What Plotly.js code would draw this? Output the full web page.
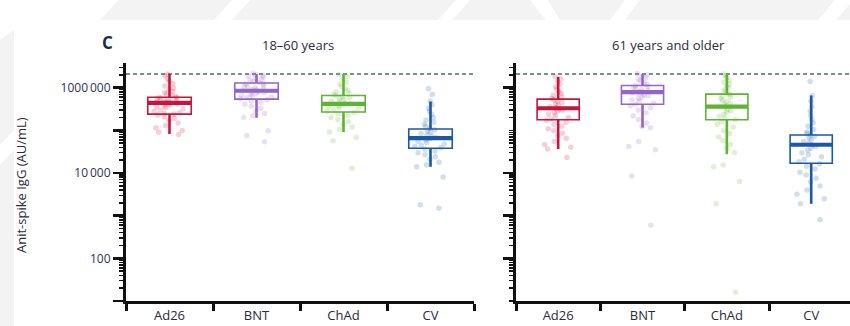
<!DOCTYPE html>
<html><head><meta charset="utf-8">
<script src="https://cdn.plot.ly/plotly-3.0.1.min.js"></script>
<style>html,body{margin:0;padding:0;background:#fff}#chart{width:850px;height:326px}</style>
</head><body><div id="chart"></div>
<script>
// ---------- DATA ----------
const categories = ['Ad26', 'BNT', 'ChAd', 'CV'];
const panelTitles = ['18–60 years', '61 years and older'];
const yTitle = 'Anit-spike IgG (AU/mL)';
const panelLetter = 'C';
const yTickVals = [10, 100, 1000, 10000, 100000, 1000000];
const yTickText = ['', '100', '', '10\u2009000', '', '1000\u2009000'];
const upperLimit = 2100000;

// 18-60 years: box statistics per category
const young_q1     = [240000, 540000, 270000, 38000];
const young_median = [440000, 850000, 420000, 66000];
const young_q3     = [600000, 1290000, 660000, 108000];
const young_low    = [82000, 197000, 91000, 14000];
const young_high   = [2100000, 2100000, 2100000, 476000];

// 61 years and older: box statistics per category
const old_q1     = [177000, 410000, 177000, 17000];
const old_median = [330000, 790000, 360000, 46000];
const old_q3     = [540000, 1130000, 710000, 78000];
const old_low    = [36500, 116000, 27600, 1900];
const old_high   = [1800000, 2100000, 2100000, 660000];

// individual values
const young_Ad26 = [2100000, 1900000, 1600000, 1400000, 1250000, 1100000, 980000, 900000, 820000, 760000, 700000, 660000, 620000, 600000, 580000, 560000, 540000, 520000, 500000, 480000, 460000, 450000, 440000, 430000, 420000, 400000, 380000, 360000, 340000, 320000, 300000, 280000, 260000, 250000, 240000, 230000, 210000, 190000, 170000, 150000, 130000, 115000, 100000, 90000, 80000];
const young_BNT = [2150000, 2050000, 1950000, 1850000, 1750000, 1650000, 1550000, 1480000, 1400000, 1330000, 1280000, 1220000, 1160000, 1100000, 1050000, 1000000, 960000, 920000, 880000, 850000, 820000, 790000, 760000, 730000, 700000, 670000, 640000, 610000, 580000, 550000, 520000, 490000, 450000, 410000, 370000, 330000, 290000, 250000, 220000, 200000, 98000, 76000, 54000];
const young_ChAd = [2050000, 1800000, 1550000, 1350000, 1200000, 1050000, 950000, 870000, 800000, 740000, 690000, 650000, 610000, 580000, 550000, 520000, 490000, 460000, 440000, 420000, 400000, 380000, 360000, 340000, 320000, 300000, 280000, 265000, 245000, 225000, 200000, 180000, 160000, 140000, 120000, 105000, 92000, 68000, 57000, 13000];
const young_CV = [950000, 700000, 480000, 400000, 330000, 280000, 240000, 200000, 175000, 155000, 140000, 125000, 112000, 104000, 97000, 90000, 84000, 78000, 73000, 68000, 64000, 60000, 56000, 52000, 48000, 45000, 42000, 39000, 36000, 33000, 30000, 27000, 24000, 21000, 18000, 15500, 14000, 8100, 1800, 1500];

const old_Ad26 = [1800000, 1600000, 1400000, 1200000, 1050000, 920000, 820000, 740000, 670000, 610000, 560000, 520000, 480000, 450000, 420000, 390000, 360000, 340000, 320000, 300000, 280000, 260000, 240000, 220000, 200000, 185000, 170000, 155000, 140000, 125000, 110000, 98000, 86000, 75000, 65000, 55000, 47000, 40000, 36500, 23000];
const old_BNT = [2150000, 2000000, 1850000, 1700000, 1550000, 1420000, 1300000, 1200000, 1120000, 1060000, 1000000, 950000, 900000, 860000, 820000, 790000, 760000, 720000, 680000, 640000, 600000, 560000, 520000, 480000, 440000, 410000, 380000, 340000, 300000, 260000, 220000, 180000, 150000, 125000, 116000, 55000, 42000, 35000, 8500, 600];
const old_ChAd = [2100000, 1900000, 1700000, 1500000, 1350000, 1200000, 1080000, 980000, 880000, 800000, 740000, 690000, 640000, 590000, 550000, 510000, 470000, 440000, 410000, 380000, 360000, 340000, 310000, 290000, 265000, 240000, 215000, 195000, 180000, 160000, 140000, 120000, 100000, 85000, 70000, 58000, 47000, 38000, 30000, 15500, 14000, 6300, 1900, 16];
const old_CV = [1400000, 650000, 480000, 360000, 280000, 220000, 180000, 150000, 125000, 105000, 92000, 84000, 78000, 72000, 66000, 60000, 55000, 50000, 46000, 42000, 38000, 34000, 30000, 27000, 24000, 21000, 18500, 16500, 14500, 12500, 10500, 9000, 7500, 6200, 5000, 4000, 3200, 2500, 1900, 800];

// ---------- STYLE ----------
const colors = ['#c8143f', '#9466c2', '#5fb333', '#1b58a6'];
const W = 850, PLOT_TOP = 63, PLOT_BOTTOM = 301;
const px2x = p => p / W;
const px2y = p => (PLOT_BOTTOM - p) / (PLOT_BOTTOM - PLOT_TOP);
const textColor = '#2a2a3c';
const FONT = '"Open Sans", "Noto Sans", sans-serif';

const panels = [
  {xa: 'x', ya: 'y', stats: [young_q1, young_median, young_q3, young_low, young_high],
   pts: [young_Ad26, young_BNT, young_ChAd, young_CV]},
  {xa: 'x2', ya: 'y2', stats: [old_q1, old_median, old_q3, old_low, old_high],
   pts: [old_Ad26, old_BNT, old_ChAd, old_CV]}
];

const traces = [];
const BW = 0.5;
panels.forEach(p => {
  const [q1, med, q3, lo, hi] = p.stats;
  categories.forEach((cat, i) => {
    const col = colors[i];
    // scatter of individual values
    traces.push({type: 'box', x: p.pts[i].map(() => cat), y: p.pts[i],
      xaxis: p.xa, yaxis: p.ya, boxpoints: 'all', jitter: 0.8, pointpos: 0,
      width: BW, line: {width: 0, color: col}, fillcolor: 'rgba(0,0,0,0)',
      marker: {color: col, opacity: 0.2, size: 5.5, symbol: 'circle'},
      hoverinfo: 'skip', showlegend: false});
    // box outline
    traces.push({type: 'box', x: [cat], q1: [q1[i]], median: [med[i]], q3: [q3[i]],
      lowerfence: [q1[i]], upperfence: [q3[i]], xaxis: p.xa, yaxis: p.ya,
      boxpoints: false, width: BW, whiskerwidth: 0,
      line: {width: 1.6, color: col}, fillcolor: 'rgba(255,255,255,0)',
      hoverinfo: 'skip', showlegend: false});
    // whiskers
    traces.push({type: 'scatter', mode: 'lines', x: [cat, cat, null, cat, cat],
      y: [q3[i], hi[i], null, q1[i], lo[i]], xaxis: p.xa, yaxis: p.ya,
      line: {color: col, width: 2.6}, connectgaps: false,
      hoverinfo: 'skip', showlegend: false});
    // thick median bar
    traces.push({type: 'box', x: [cat], q1: [med[i]], median: [med[i]], q3: [med[i]],
      lowerfence: [med[i]], upperfence: [med[i]], xaxis: p.xa, yaxis: p.ya,
      boxpoints: false, width: BW, whiskerwidth: 0,
      line: {width: 4.2, color: col}, fillcolor: 'rgba(0,0,0,0)',
      hoverinfo: 'skip', showlegend: false});
  });
});

const xBase = {type: 'category', categoryorder: 'array', categoryarray: categories,
  showline: true, linewidth: 3, linecolor: '#111', ticks: 'outside', tickson: 'boundaries',
  ticklen: 7, tickwidth: 3, tickcolor: '#111', showgrid: false, zeroline: false,
  tickfont: {family: FONT, size: 13, color: textColor}, fixedrange: true, automargin: false};
const yBase = {type: 'log', range: [1, 6.58], showline: true, linewidth: 3, linecolor: '#111',
  ticks: 'outside', ticklen: 10, tickwidth: 2.5, tickcolor: '#111',
  tickmode: 'array', tickvals: yTickVals, ticktext: yTickText,
  minor: {ticks: 'outside', ticklen: 4, tickwidth: 1.5, tickcolor: '#111', dtick: 'D1', showgrid: false},
  showgrid: false, zeroline: false, tickfont: {family: FONT, size: 12, color: '#2e3352'},
  fixedrange: true, automargin: false};

const bg = '#f3f3f3';
const layout = {
  width: 850, height: 326,
  margin: {l: 0, r: 0, t: PLOT_TOP, b: 326 - PLOT_BOTTOM},
  paper_bgcolor: '#fff', plot_bgcolor: 'rgba(0,0,0,0)',
  boxmode: 'overlay', showlegend: false,
  font: {family: FONT, color: textColor},
  xaxis: Object.assign({}, xBase, {domain: [px2x(126), px2x(474)], anchor: 'y', range: [-0.5, 3.5]}),
  xaxis2: Object.assign({}, xBase, {domain: [px2x(516), 1], anchor: 'y2', range: [-0.5, 3.46]}),
  yaxis: Object.assign({}, yBase, {anchor: 'x', domain: [0, 1]}),
  yaxis2: Object.assign({}, yBase, {anchor: 'x2', domain: [0, 1], showticklabels: false}),
  shapes: [
    {type: 'line', xref: 'x domain', yref: 'y', x0: 0, x1: 1, y0: upperLimit, y1: upperLimit,
     line: {color: '#7f8f8f', width: 1.8, dash: '4px,3px'}, layer: 'below'},
    {type: 'line', xref: 'x2 domain', yref: 'y2', x0: 0, x1: 1, y0: upperLimit, y1: upperLimit,
     line: {color: '#7f8f8f', width: 1.8, dash: '4px,3px'}, layer: 'below'},
    // faint background watermark
    {type: 'path', xref: 'paper', yref: 'paper', layer: 'below', line: {width: 0}, fillcolor: bg,
     path: `M${px2x(100)},${px2y(20)} L${px2x(118)},${px2y(0)} L${px2x(232)},${px2y(0)} L${px2x(214)},${px2y(20)} Z`},
    {type: 'path', xref: 'paper', yref: 'paper', layer: 'below', line: {width: 0}, fillcolor: bg,
     path: `M${px2x(232)},${px2y(20)} L${px2x(250)},${px2y(0)} L${px2x(456)},${px2y(0)} L${px2x(438)},${px2y(20)} Z`},
    {type: 'path', xref: 'paper', yref: 'paper', layer: 'below', line: {width: 0}, fillcolor: bg,
     path: `M${px2x(452)},${px2y(20)} L${px2x(470)},${px2y(0)} L${px2x(530)},${px2y(0)} L${px2x(546)},${px2y(20)} Z`},
    {type: 'path', xref: 'paper', yref: 'paper', layer: 'below', line: {width: 0}, fillcolor: bg,
     path: `M${px2x(560)},${px2y(20)} L${px2x(548)},${px2y(0)} L${px2x(625)},${px2y(0)} L${px2x(610)},${px2y(20)} Z`},
    {type: 'path', xref: 'paper', yref: 'paper', layer: 'below', line: {width: 0}, fillcolor: bg,
     path: `M${px2x(625)},${px2y(20)} L${px2x(640)},${px2y(0)} L${px2x(835)},${px2y(0)} L${px2x(818)},${px2y(20)} Z`},
    {type: 'path', xref: 'paper', yref: 'paper', layer: 'below', line: {width: 0}, fillcolor: bg,
     path: `M${px2x(836)},${px2y(20)} L${px2x(850)},${px2y(4)} L${px2x(850)},${px2y(20)} Z`},
    {type: 'path', xref: 'paper', yref: 'paper', layer: 'below', line: {width: 0}, fillcolor: bg,
     path: `M0,${px2y(40)} L${px2x(14)},${px2y(30)} L${px2x(14)},${px2y(130)} L0,${px2y(145)} Z`},
    {type: 'path', xref: 'paper', yref: 'paper', layer: 'below', line: {width: 0}, fillcolor: bg,
     path: `M0,${px2y(165)} L${px2x(14)},${px2y(150)} L${px2x(14)},${px2y(326)} L0,${px2y(326)} Z`}
  ],
  annotations: [
    {xref: 'paper', yref: 'paper', x: px2x(298), y: px2y(45), text: panelTitles[0], showarrow: false,
     xanchor: 'center', yanchor: 'middle', font: {family: FONT, size: 13, color: textColor}},
    {xref: 'paper', yref: 'paper', x: px2x(668), y: px2y(45), text: panelTitles[1], showarrow: false,
     xanchor: 'center', yanchor: 'middle', font: {family: FONT, size: 13, color: textColor}},
    {xref: 'paper', yref: 'paper', x: px2x(108), y: px2y(42), text: '<b>' + panelLetter + '</b>', showarrow: false,
     xanchor: 'center', yanchor: 'middle', font: {family: FONT, size: 17, color: '#1e2a48'}},
    {xref: 'paper', yref: 'paper', x: px2x(21), y: px2y(185), text: yTitle, showarrow: false, textangle: -90,
     xanchor: 'center', yanchor: 'middle', font: {family: FONT, size: 13, color: textColor}}
  ]
};

Plotly.newPlot('chart', traces, layout, {staticPlot: true, displayModeBar: false});
</script>
</body></html>
